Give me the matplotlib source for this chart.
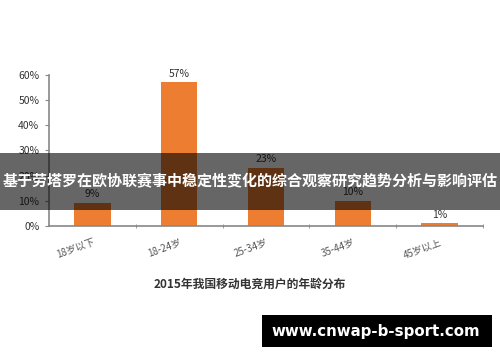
import numpy as np
import matplotlib.pyplot as plt
from matplotlib.patches import Rectangle

plt.rcParams['font.family'] = ['Noto Sans CJK SC', 'DejaVu Sans']

# 数据
categories = ['18岁以下', '18-24岁', '25-34岁', '35-44岁', '45岁以上']
values = [9, 57, 23, 10, 1]
yticks = [0, 10, 20, 30, 40, 50, 60]

fig = plt.figure(figsize=(5, 3.62), dpi=100)
ax = fig.add_axes([0.098, 0.376, 0.868, 0.417])

x = np.arange(len(categories))
ax.bar(x, values, width=0.42, color='#ED7D31')
for xi, v in zip(x, values):
    ax.text(xi, v + 1.5, f'{v}%', ha='center', va='bottom', fontsize=7.5, color='#333333')

ax.set_xlim(-0.5, len(categories) - 0.5)
ax.set_ylim(0, 60)
ax.set_yticks(yticks)
ax.set_yticklabels([f'{t}%' for t in yticks], fontsize=7.5, color='#333333')
ax.set_xticks(x)
ax.set_xticklabels(categories, fontsize=7, color='#555555', rotation=20, ha='right',
                   rotation_mode='anchor')
ax.set_xticks(np.arange(len(categories)) + 0.5, minor=True)
ax.tick_params(axis='x', which='major', length=0, pad=8)
ax.tick_params(axis='x', which='minor', length=3, direction='inout', color='#888888')
ax.tick_params(axis='y', length=3, color='#888888', pad=4)
for s in ['top', 'right']:
    ax.spines[s].set_visible(False)
for s in ['left', 'bottom']:
    ax.spines[s].set_color('#888888')
    ax.spines[s].set_linewidth(1.2)

fig.text(0.5, 0.215, '2015年我国移动电竞用户的年龄分布', ha='center', va='center',
         fontsize=8.5, fontweight='bold', color='#333333')

# 半透明横幅
fig.patches.append(Rectangle((0, 0.42), 1, 0.157, transform=fig.transFigure,
                             facecolor='black', alpha=0.6, zorder=5))
fig.text(0.5, 0.4985, '基于劳塔罗在欧协联赛事中稳定性变化的综合观察研究趋势分析与影响评估',
         ha='center', va='center', fontsize=10.8, fontweight='bold', color='white', zorder=6)

# 水印
fig.patches.append(Rectangle((0.524, 0.041), 0.46, 0.088, transform=fig.transFigure,
                             facecolor='black', zorder=5))
fig.text(0.752, 0.085, 'www.cnwap-b-sport.com', ha='center', va='center',
         fontsize=10.8, fontweight='bold', color='white', family='DejaVu Sans', zorder=6)

fig.savefig('out.png', dpi=100)
